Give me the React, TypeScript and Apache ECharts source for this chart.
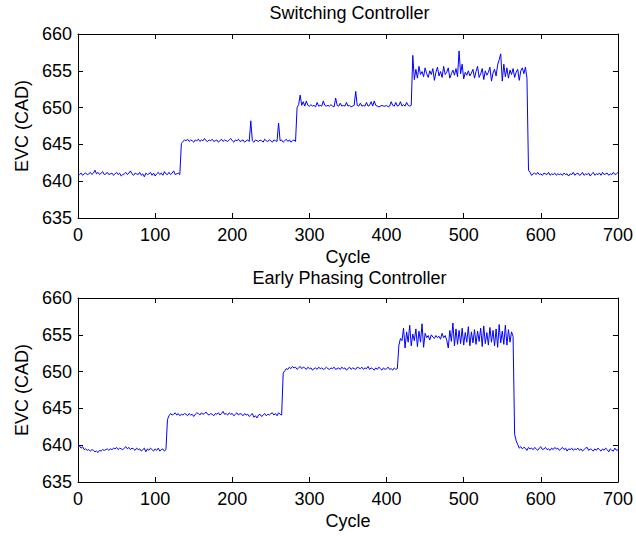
import React, { useEffect, useRef } from "react";
import * as echarts from "echarts";

// Sampling step of the recorded cycles (value i is at cycle i * CYCLE_STEP)
const CYCLE_STEP = 2;

const titles = ["Switching Controller", "Early Phasing Controller"];
const xName = "Cycle";
const yName = "EVC (CAD)";
const xTicks = { min: 0, max: 700, interval: 100 };
const yTicks = { min: 635, max: 660, interval: 5 };

// Switching Controller, cycles 0..700 step 2
const switchingEVC = [
  641.0, 640.9, 641.1, 640.8, 641.0, 641.1, 640.9, 641.0, 641.2, 640.9,
  641.1, 641.5, 641.0, 641.2, 640.9, 641.1, 641.3, 640.9, 641.0, 641.2,
  640.9, 641.0, 641.1, 640.8, 641.0, 641.2, 640.9, 641.1, 640.7, 640.9,
  641.0, 641.2, 640.9, 641.1, 641.4, 641.0, 640.8, 641.1, 641.0, 640.9,
  641.2, 640.8, 641.0, 640.6, 641.1, 640.9, 641.0, 641.2, 640.8, 641.1,
  640.7, 641.0, 641.2, 640.9, 641.1, 640.8, 641.3, 641.0, 640.9, 641.2,
  640.9, 641.1, 641.4, 640.9, 641.0, 641.1, 640.9,
  645.1, 645.4, 645.6, 645.5, 645.7, 645.4, 645.6, 645.5, 645.3, 645.6,
  645.5, 645.7, 645.4, 645.6, 645.5, 645.8, 645.5, 645.4, 645.6, 645.5,
  645.7, 645.4, 645.5, 645.6, 645.3, 645.5, 645.7, 645.4, 645.6, 645.5,
  645.4, 645.6, 645.8, 645.5, 645.3, 645.6, 645.5, 645.7, 645.4, 645.5,
  645.6, 645.3, 645.5, 645.6, 645.4, 648.2, 645.5, 645.3, 645.6, 645.5,
  645.4, 645.6, 645.5, 645.3, 645.7, 645.5, 645.4, 645.6, 645.5, 645.3,
  645.6, 645.5, 645.4, 647.9, 645.5, 645.6, 645.3, 645.5, 645.7, 645.4,
  645.6, 645.3, 645.5, 645.6, 645.4,
  650.0, 650.4, 651.7, 650.3, 650.8, 650.2, 650.9, 650.3, 650.2, 650.4,
  650.2, 650.3, 650.1, 650.7, 650.2, 650.3, 650.2, 650.9, 650.3, 650.2,
  650.3, 650.2, 650.4, 650.2, 650.1, 651.3, 650.3, 650.2, 650.6, 650.2,
  650.3, 650.2, 650.7, 650.2, 650.3, 650.1, 650.2, 650.3, 652.2, 650.3,
  650.2, 650.6, 650.2, 650.3, 650.2, 650.7, 650.2, 650.3, 650.8, 650.2,
  650.9, 650.3, 650.2, 650.1, 650.2, 650.3, 650.2, 650.2, 650.3, 650.1,
  650.2, 650.8, 650.3, 650.2, 650.7, 650.2, 650.3, 650.8, 650.2, 650.4,
  650.2, 650.7, 650.3, 650.2, 650.3,
  657.1, 653.8, 655.2, 654.0, 655.6, 654.5, 654.9, 654.2, 655.4, 654.6,
  654.1, 655.0, 654.5, 655.3, 653.7, 654.8, 655.5, 654.3, 654.9, 654.1,
  655.6, 654.5, 654.8, 655.4, 654.0, 654.6, 655.1, 654.4, 655.3, 654.2,
  657.7, 654.6, 655.9, 653.9, 654.8, 654.4, 655.0, 654.3, 654.7, 655.2,
  654.0, 654.9, 655.6, 654.1, 654.6, 655.3, 653.8, 655.0, 654.4, 654.8,
  655.5, 653.6, 654.7, 655.2, 654.3, 655.8, 656.5, 657.3, 653.6, 655.9,
  654.2, 655.4, 654.0, 655.1, 654.5, 655.3, 654.1, 654.8, 655.2, 653.7,
  655.0, 655.4, 654.6, 655.5, 654.0,
  641.5,
  641.2, 640.8, 641.0, 641.1, 640.9, 641.2, 640.9, 641.0, 640.8, 641.1,
  641.0, 640.9, 641.2, 640.8, 641.0, 640.9, 641.1, 640.8, 641.0, 640.9,
  641.0, 640.8, 641.1, 640.9, 641.0, 640.7, 641.0, 640.9, 641.2, 640.8,
  641.0, 641.1, 640.8, 640.9, 641.2, 640.8, 641.0, 640.9, 641.1, 640.7,
  641.0, 641.2, 640.8, 641.0, 640.9, 641.1, 640.8, 641.2, 640.9, 641.0,
  641.1, 640.8, 641.0, 640.9, 641.2, 640.9, 641.0, 641.2,
];

// Early Phasing Controller, cycles 0..700 step 2
const earlyPhasingEVC = [
  639.7, 639.9, 639.6, 639.8, 639.4, 639.5, 639.3, 639.4, 639.2, 639.4,
  639.3, 639.1, 639.2, 639.0, 639.3, 639.2, 639.4, 639.3, 639.4, 639.5,
  639.3, 639.5, 639.4, 639.6, 639.5, 639.7, 639.4, 639.6, 639.5, 639.4,
  639.6, 639.8, 639.5, 639.7, 639.4, 639.6, 639.5, 639.3, 639.6, 639.4,
  639.5, 639.2, 639.4, 639.6, 639.1, 639.5, 639.3, 639.6, 639.4, 639.2,
  639.5, 639.3, 639.6, 639.2, 639.4, 639.5, 639.2, 639.4,
  643.5, 644.0, 644.3, 644.1, 644.2, 644.4, 644.1, 644.3, 644.0, 644.2,
  644.1, 644.3, 644.2, 644.0, 644.3, 644.1, 644.2, 643.9, 644.2, 644.4,
  644.3, 644.1, 644.4, 644.2, 644.3, 644.5, 644.2, 644.1, 644.3, 644.2,
  644.0, 644.3, 644.2, 644.4, 644.1, 644.3, 644.6, 644.2, 644.3, 644.1,
  644.4, 644.2, 644.3, 644.0, 644.2, 644.4, 644.1, 644.3, 644.2, 644.0,
  644.3, 644.1, 644.2, 643.9, 644.1, 644.3, 643.8, 644.0, 643.7, 644.1,
  644.2, 643.9, 644.1, 644.3, 644.0, 644.2, 644.1, 644.3, 644.4, 644.1,
  644.3, 644.0, 644.4, 644.2, 644.1,
  649.8, 650.1, 650.4, 650.3, 650.6, 650.4, 650.7, 650.5, 650.6, 650.3,
  650.5, 650.7, 650.4, 650.6, 650.5, 650.3, 650.6, 650.4, 650.5, 650.2,
  650.4, 650.5, 650.3, 650.6, 650.4, 650.5, 650.3, 650.4, 650.6, 650.4,
  650.3, 650.5, 650.4, 650.6, 650.3, 650.4, 650.5, 650.3, 650.6, 650.4,
  650.5, 650.2, 650.4, 650.6, 650.3, 650.5, 650.4, 650.3, 650.6, 650.5,
  650.4, 650.6, 650.3, 650.5, 650.4, 650.7, 650.3, 650.5, 650.4, 650.2,
  650.5, 650.3, 650.6, 650.4, 650.2, 650.5, 650.3, 650.4, 650.6, 650.3,
  650.4, 650.2, 650.5, 650.3, 650.4,
  653.6, 654.5, 654.2, 655.9, 653.2, 655.4, 654.0, 656.3, 653.5, 655.1,
  654.2, 655.8, 653.4, 655.5, 654.0, 656.5, 653.3, 655.2, 654.6, 654.9,
  654.3, 655.0, 654.7, 654.5, 654.9, 654.6, 654.8, 654.4, 655.2, 654.6,
  654.9, 654.3, 653.2, 655.6, 654.1, 656.6, 653.5, 655.8, 653.7, 655.6,
  653.8, 655.9, 653.6, 655.3, 654.0, 656.1, 653.5, 655.4, 653.9, 655.7,
  653.7, 655.5, 654.1, 655.9, 653.4, 656.2, 653.8, 655.3, 653.6, 656.0,
  654.0, 655.6, 653.5, 655.8, 653.3, 656.4, 653.9, 655.5, 653.7, 656.3,
  653.6, 655.7, 654.0, 655.4, 654.8,
  641.5, 640.6, 640.1, 639.6, 639.8, 639.5, 639.7, 639.6, 639.3, 639.7,
  639.5, 639.6, 639.4, 639.7, 639.5, 639.3, 639.6, 639.8, 639.4, 639.5,
  639.7, 639.4, 639.5, 639.3, 639.6, 639.4, 639.7, 639.5, 639.6, 639.3,
  639.5, 639.7, 639.4, 639.6, 639.2, 639.5, 639.4, 639.6, 639.3, 639.5,
  639.4, 639.6, 639.3, 639.5, 639.2, 639.4, 639.6, 639.7, 639.3, 639.5,
  639.4, 639.2, 639.5, 639.3, 639.6, 639.4, 639.2, 639.5, 639.3, 639.6,
  639.4, 639.1, 639.5, 639.3, 639.2, 639.6, 639.3, 639.4,
];

const seriesValues = [switchingEVC, earlyPhasingEVC];

const FONT = "'Liberation Sans', Arial, Helvetica, sans-serif";

export default function App() {
  const ref = useRef<HTMLDivElement>(null);

  useEffect(() => {
    if (!ref.current) return;
    const chart = echarts.init(ref.current, null, { renderer: "svg" });

    const gridTops = [34, 298];
    const titleTops = [4, 269];
    const axisLine = { show: true, onZero: false, lineStyle: { color: "#000", width: 1 } };
    const axisTick = { show: true, inside: true, length: 5, lineStyle: { color: "#000", width: 1 } };
    const labelStyle = { fontSize: 18, color: "#000", fontFamily: FONT };

    const grids: any[] = [];
    const xAxes: any[] = [];
    const yAxes: any[] = [];
    const series: any[] = [];
    const titleOpts: any[] = [];

    gridTops.forEach((top, g) => {
      grids.push({ left: 78, top, width: 543, height: 184, containLabel: false });
      titleOpts.push({
        text: titles[g],
        left: 349.5,
        top: titleTops[g],
        textAlign: "center",
        padding: 0,
        textStyle: { fontSize: 18, fontWeight: "normal", color: "#000", fontFamily: FONT },
      });
      // bottom x axis
      xAxes.push({
        type: "value",
        gridIndex: g,
        position: "bottom",
        ...xTicks,
        name: xName,
        nameLocation: "middle",
        nameGap: 30,
        nameTextStyle: labelStyle,
        axisLine,
        axisTick,
        axisLabel: { ...labelStyle, margin: 8 },
        splitLine: { show: false },
      });
      // top x axis (box + ticks only)
      xAxes.push({
        type: "value",
        gridIndex: g,
        position: "top",
        ...xTicks,
        axisLine,
        axisTick,
        axisLabel: { show: false },
        splitLine: { show: false },
      });
      // left y axis
      yAxes.push({
        type: "value",
        gridIndex: g,
        position: "left",
        ...yTicks,
        name: yName,
        nameLocation: "middle",
        nameGap: 45,
        nameRotate: 90,
        nameTextStyle: labelStyle,
        axisLine,
        axisTick,
        axisLabel: { ...labelStyle, margin: 6 },
        splitLine: { show: false },
      });
      // right y axis (box + ticks only)
      yAxes.push({
        type: "value",
        gridIndex: g,
        position: "right",
        ...yTicks,
        axisLine,
        axisTick,
        axisLabel: { show: false },
        splitLine: { show: false },
      });
      series.push({
        type: "line",
        xAxisIndex: g * 2,
        yAxisIndex: g * 2,
        data: seriesValues[g].map((v, i) => [i * CYCLE_STEP, v]),
        showSymbol: false,
        symbol: "none",
        lineStyle: { color: "#0000ff", width: 1 },
        itemStyle: { color: "#0000ff" },
      });
    });

    chart.setOption({
      animation: false,
      backgroundColor: "#fff",
      textStyle: { fontFamily: FONT },
      title: titleOpts,
      grid: grids,
      xAxis: xAxes,
      yAxis: yAxes,
      series,
    });

    return () => chart.dispose();
  }, []);

  return (
    <div
      ref={ref}
      style={{ position: "fixed", left: 0, top: 0, width: 636, height: 538 }}
    />
  );
}
